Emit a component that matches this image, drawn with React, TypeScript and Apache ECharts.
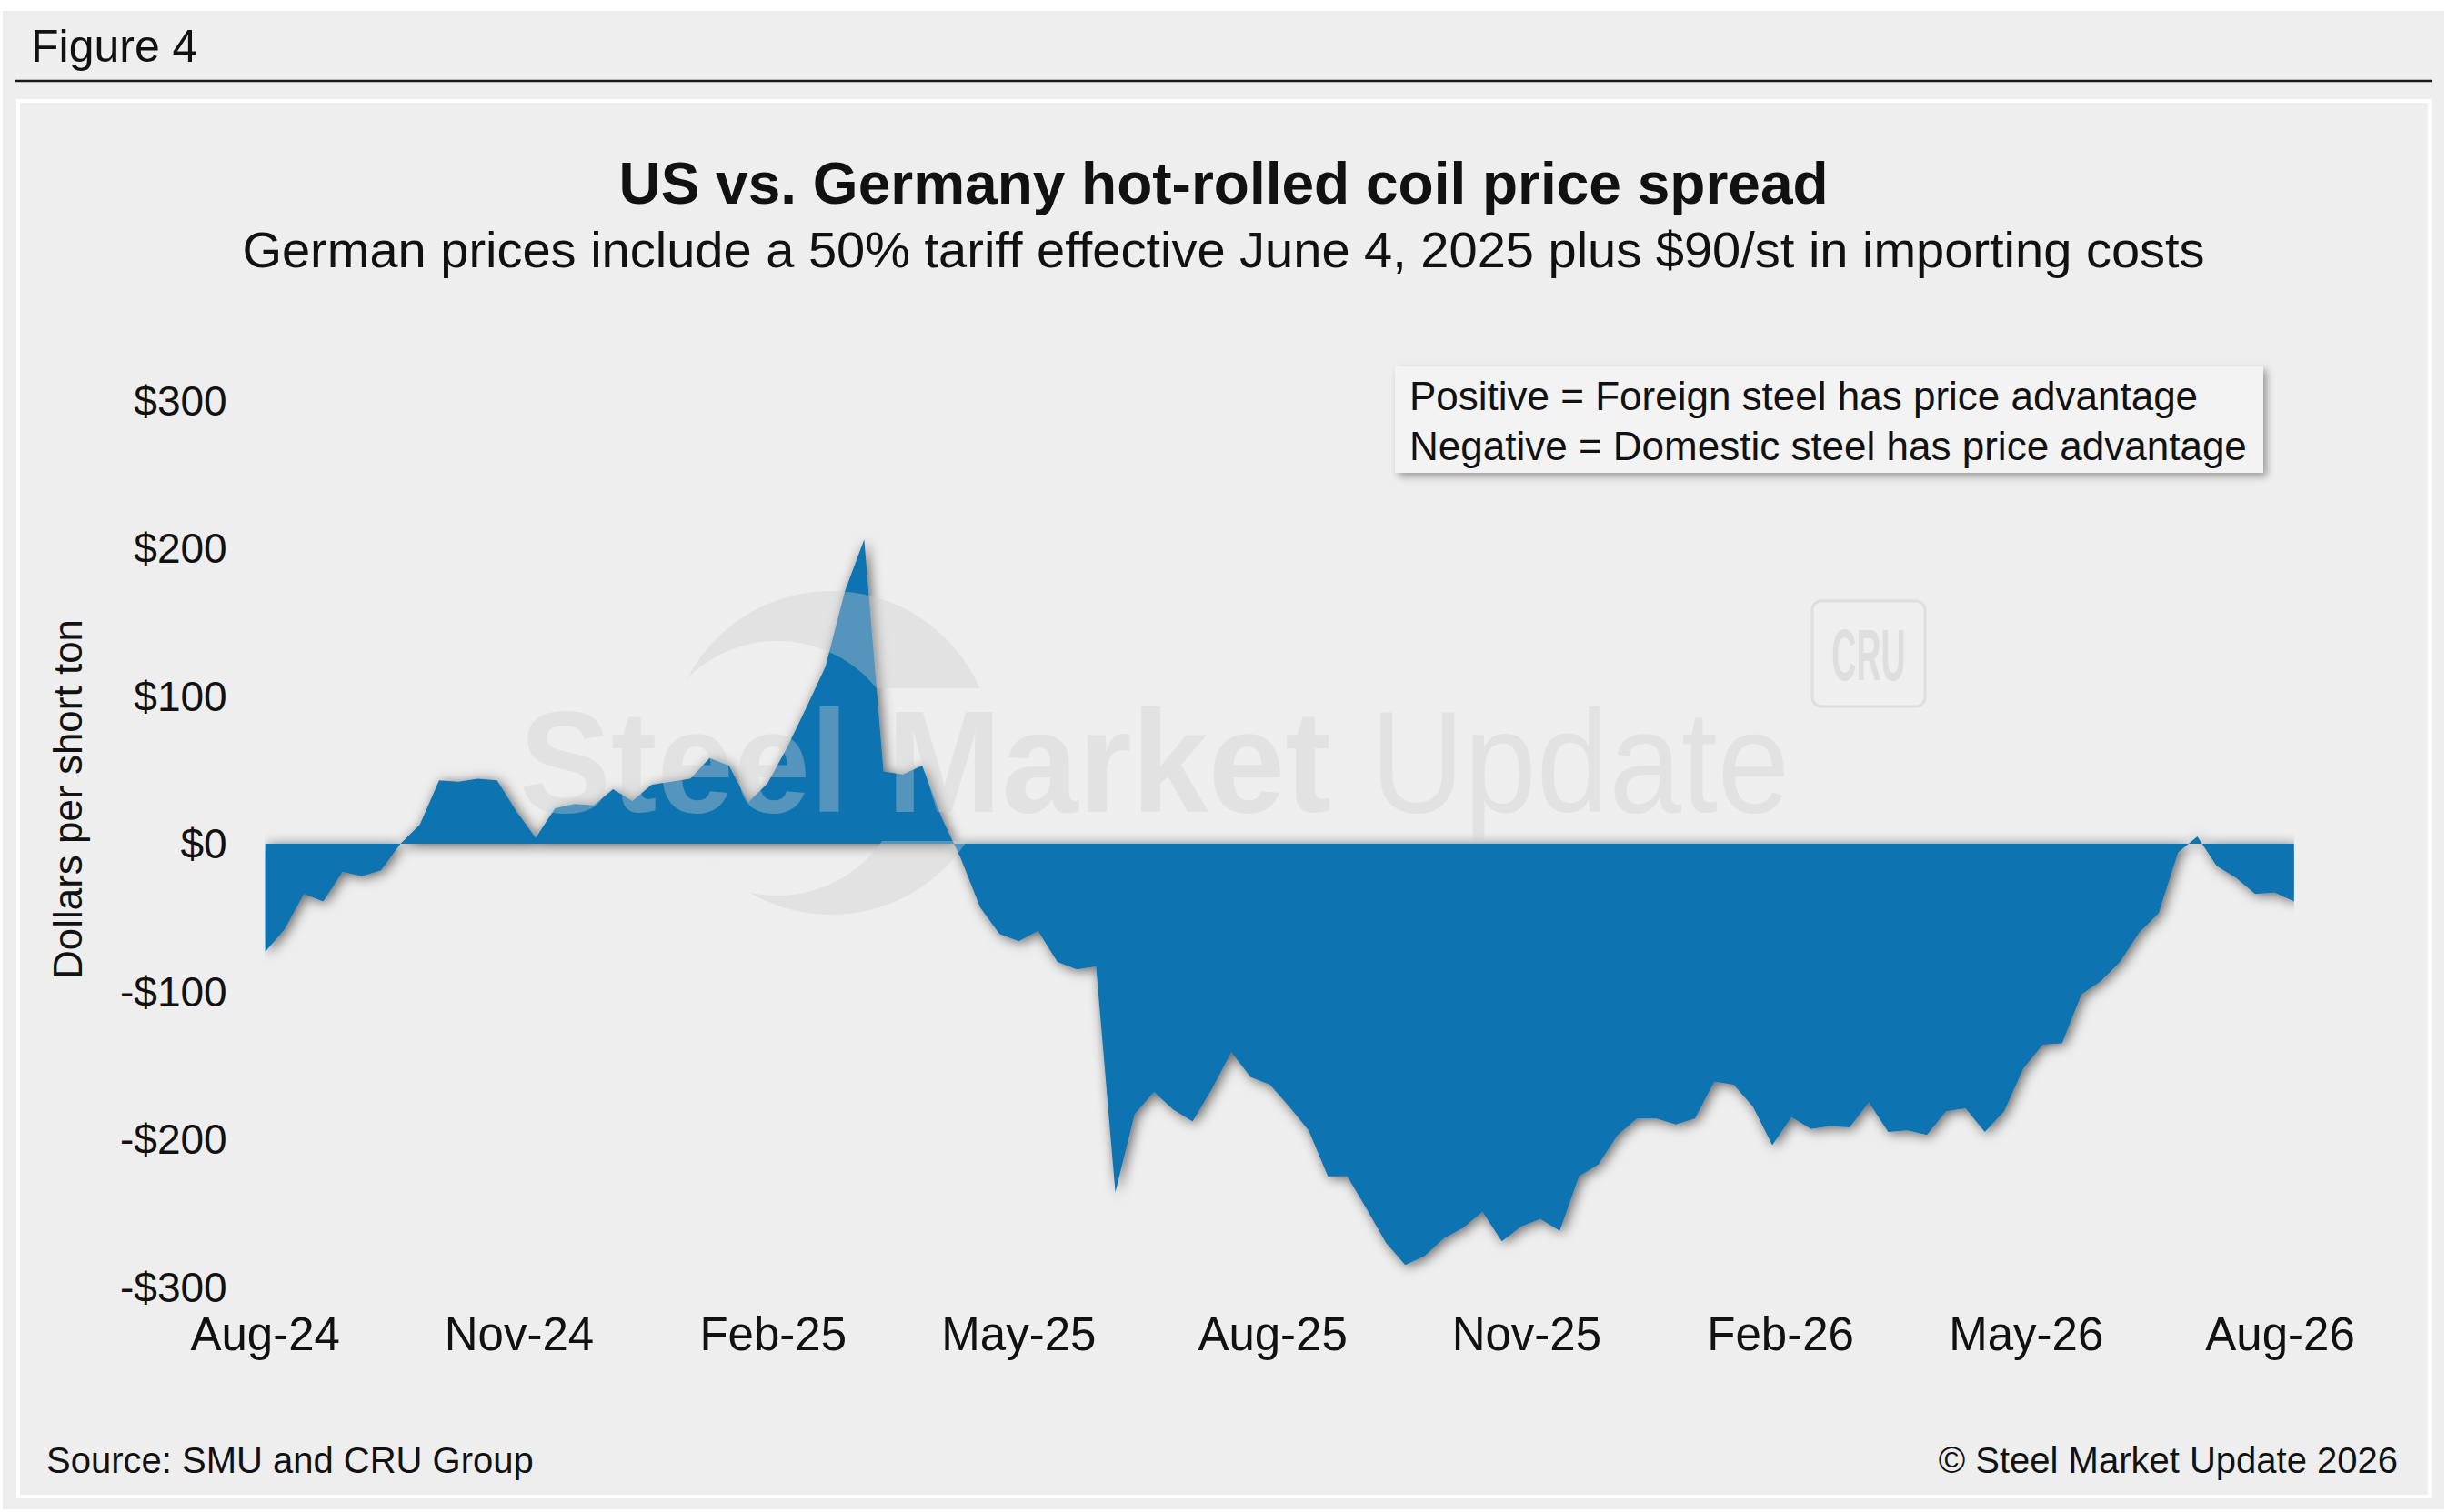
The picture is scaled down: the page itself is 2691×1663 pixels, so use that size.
import { useEffect, useRef } from "react";
import * as echarts from "echarts";

const WIDTH = 2691;
const HEIGHT = 1663;
const FONT = '"Liberation Sans", Arial, Helvetica, sans-serif';

// US minus German (landed) hot-rolled coil price, $/short ton, weekly
const spreadValues = [
  -73, -58, -34, -39, -19, -22, -18, 0, 13, 43, 42, 44, 43, 22, 4, 24, 27, 26,
  37, 29, 40, 42, 44, 58, 53, 28, 41, 65, 92, 120, 171, 206, 49, 47, 53, 18,
  -10, -43, -61, -66, -59, -80, -85, -83, -236, -183, -168, -180, -188, -166,
  -141, -158, -163, -178, -194, -225, -225, -247, -270, -285, -279, -267, -260,
  -249, -269, -259, -254, -262, -225, -217, -197, -186, -186, -190, -186, -161,
  -163, -178, -204, -185, -193, -191, -192, -175, -195, -194, -197, -181, -179,
  -195, -181, -152, -136, -135, -102, -93, -80, -60, -47, -6, 5, -15, -23, -34,
  -33, -39,
];

// first weekly observation (UTC)
const firstWeek = "2024-08-01";

const xTickDates = [
  "2024-08-01", "2024-11-01", "2025-02-01", "2025-05-01", "2025-08-01",
  "2025-11-01", "2026-02-01", "2026-05-01", "2026-08-01",
];
const xTickLabels = [
  "Aug-24", "Nov-24", "Feb-25", "May-25", "Aug-25",
  "Nov-25", "Feb-26", "May-26", "Aug-26",
];

const yMin = -300;
const yMax = 300;
const yStep = 100;

const legendLines = [
  "Positive = Foreign steel has price advantage",
  "Negative = Domestic steel has price advantage",
];

const DAY = 86400000;
const utc = (s: string) => Date.parse(s + "T00:00:00Z");

const weekTimes = spreadValues.map((_, i) => utc(firstWeek) + 7 * i * DAY);
const tickTimes = xTickDates.map(utc);

const fmtDollar = (v: number) => (v < 0 ? `-$${-v}` : `$${v}`);

// watermark logo (crescent cut by a horizontal band)
const WM_COLOR = "rgba(205,205,208,0.37)";
const outerC = { cx: 914, cy: 828, r: 178 };
const innerC = { cx: 855, cy: 845, r: 140 };
const bandTop = 757;
const bandBottom = 925;

const arcPts = (c: { cx: number; cy: number; r: number }, a0: number, a1: number, n = 60) => {
  const pts: number[][] = [];
  for (let k = 0; k <= n; k++) {
    const t = a0 + ((a1 - a0) * k) / n;
    pts.push([c.cx + c.r * Math.cos(t), c.cy + c.r * Math.sin(t)]);
  }
  return pts;
};

// keep inner arc points inside the outer circle
const clampToOuter = (pts: number[][]) =>
  pts.map(([x, y]) => {
    const dx = x - outerC.cx;
    const dy = y - outerC.cy;
    const d = Math.sqrt(dx * dx + dy * dy);
    if (d <= outerC.r) return [x, y];
    return [outerC.cx + (dx / d) * outerC.r, outerC.cy + (dy / d) * outerC.r];
  });

const logoTop = () => {
  const a = Math.asin((outerC.cy - bandTop) / outerC.r);
  const b = Math.asin((innerC.cy - bandTop) / innerC.r);
  return [
    ...arcPts(outerC, Math.PI + a, 2 * Math.PI - a),
    ...clampToOuter(arcPts(innerC, 2 * Math.PI - b, Math.PI + b)),
  ];
};

const logoBottom = () => {
  const c = Math.asin((bandBottom - outerC.cy) / outerC.r);
  const d = Math.asin((bandBottom - innerC.cy) / innerC.r);
  return [
    ...arcPts(outerC, c, Math.PI - c),
    ...clampToOuter(arcPts(innerC, Math.PI - d, d)),
  ];
};

function SpreadChart() {
  const chartRef = useRef<HTMLDivElement>(null);

  useEffect(() => {
    if (!chartRef.current) return;
    const chart = echarts.init(chartRef.current, undefined, { renderer: "svg" });

    const option: echarts.EChartsOption = {
      animation: false,
      backgroundColor: "#ffffff",
      grid: { left: 291.7, right: 168.3, top: 440.5, bottom: 247.5, containLabel: false },
      xAxis: {
        type: "value",
        min: weekTimes[0],
        max: weekTimes[weekTimes.length - 1],
        axisLine: { show: false },
        axisTick: { show: false },
        splitLine: { show: false },
        axisLabel: {
          customValues: tickTimes,
          formatter: (v: number) => {
            const i = tickTimes.indexOf(v);
            return i >= 0 ? xTickLabels[i] : "";
          },
          margin: 26,
          color: "#111",
          fontFamily: FONT,
          fontSize: 51,
        },
      } as any,
      yAxis: {
        type: "value",
        min: yMin,
        max: yMax,
        interval: yStep,
        axisLine: { show: false },
        axisTick: { show: false },
        splitLine: { show: false },
        axisLabel: {
          formatter: (v: number) => fmtDollar(v),
          margin: 42,
          color: "#111",
          fontFamily: FONT,
          fontSize: 46,
        },
      },
      series: [
        {
          type: "line",
          data: weekTimes.map((t, i) => [t, spreadValues[i]]),
          symbol: "none",
          silent: true,
          lineStyle: { width: 0, color: "#1073b1" },
          areaStyle: {
            color: "#1073b1",
            opacity: 1,
            origin: "auto",
            shadowBlur: 14,
            shadowColor: "rgba(0,0,0,0.6)",
            shadowOffsetX: 3,
            shadowOffsetY: 2,
          },
        },
      ],
      graphic: [
        // page panels
        {
          type: "rect",
          z: 0,
          silent: true,
          shape: { x: 3, y: 12, width: 2685, height: 1648 },
          style: { fill: "#eeeeee" },
        },
        {
          type: "rect",
          z: 0,
          silent: true,
          shape: { x: 20, y: 111, width: 2652, height: 1535 },
          style: { fill: "#eeeeee", stroke: "#ffffff", lineWidth: 4 },
        },
        {
          type: "line",
          z: 1,
          silent: true,
          shape: { x1: 17, y1: 89, x2: 2674, y2: 89 },
          style: { stroke: "#1a1a1a", lineWidth: 2.5 },
        },
        {
          type: "text",
          z: 1,
          x: 34,
          y: 51,
          style: {
            text: "Figure 4",
            fontFamily: FONT,
            fontSize: 50,
            fill: "#111",
            align: "left",
            verticalAlign: "middle",
          },
        },
        {
          type: "text",
          z: 1,
          x: WIDTH / 2,
          y: 202,
          style: {
            text: "US vs. Germany hot-rolled coil price spread",
            fontFamily: FONT,
            fontWeight: "bold",
            fontSize: 64,
            fill: "#111",
            align: "center",
            verticalAlign: "middle",
          },
        },
        {
          type: "text",
          z: 1,
          x: WIDTH / 2,
          y: 274,
          style: {
            text: "German prices include a 50% tariff effective June 4, 2025 plus $90/st in importing costs",
            fontFamily: FONT,
            fontSize: 56,
            fill: "#111",
            align: "center",
            verticalAlign: "middle",
          },
        },
        {
          type: "text",
          z: 1,
          x: 74,
          y: 879,
          rotation: Math.PI / 2,
          style: {
            text: "Dollars per short ton",
            fontFamily: FONT,
            fontSize: 44,
            fill: "#111",
            align: "center",
            verticalAlign: "middle",
          },
        },
        {
          type: "text",
          z: 1,
          x: 51,
          y: 1606,
          style: {
            text: "Source: SMU and CRU Group",
            fontFamily: FONT,
            fontSize: 40,
            fill: "#111",
            align: "left",
            verticalAlign: "middle",
          },
        },
        {
          type: "text",
          z: 1,
          x: 2637,
          y: 1606,
          style: {
            text: "© Steel Market Update 2026",
            fontFamily: FONT,
            fontSize: 40,
            fill: "#111",
            align: "right",
            verticalAlign: "middle",
          },
        },
        // watermark
        {
          type: "polygon",
          z: 5,
          silent: true,
          shape: { points: logoTop() },
          style: { fill: WM_COLOR },
        },
        {
          type: "polygon",
          z: 5,
          silent: true,
          shape: { points: logoBottom() },
          style: { fill: WM_COLOR },
        },
        {
          type: "text",
          z: 5,
          silent: true,
          x: 571,
          y: 838,
          scaleX: 0.947,
          style: {
            text: "Steel Market",
            fontFamily: FONT,
            fontWeight: "bold",
            fontSize: 160,
            fill: WM_COLOR,
            align: "left",
            verticalAlign: "middle",
          },
        },
        {
          type: "text",
          z: 5,
          silent: true,
          x: 1507,
          y: 838,
          scaleX: 0.894,
          style: {
            text: "Update",
            fontFamily: FONT,
            fontSize: 160,
            fill: WM_COLOR,
            align: "left",
            verticalAlign: "middle",
          },
        },
        {
          type: "rect",
          z: 5,
          silent: true,
          shape: { x: 1993, y: 661, width: 124, height: 116, r: 10 },
          style: { fill: "rgba(255,255,255,0.08)", stroke: "rgba(205,205,208,0.5)", lineWidth: 3 },
        },
        {
          type: "text",
          z: 5,
          silent: true,
          x: 2055,
          y: 720,
          scaleX: 0.47,
          style: {
            text: "CRU",
            fontFamily: FONT,
            fontWeight: "bold",
            fontSize: 80,
            fill: "rgba(205,205,208,0.5)",
            align: "center",
            verticalAlign: "middle",
          },
        },
        // note box
        {
          type: "rect",
          z: 6,
          silent: true,
          shape: { x: 1534, y: 403, width: 955, height: 117 },
          style: {
            fill: "#f3f3f3",
            shadowBlur: 8,
            shadowOffsetX: 4,
            shadowOffsetY: 4,
            shadowColor: "rgba(0,0,0,0.35)",
          },
        },
        ...legendLines.map((line, i) => ({
          type: "text" as const,
          z: 7,
          silent: true,
          x: 1550,
          y: 435 + i * 55,
          style: {
            text: line,
            fontFamily: FONT,
            fontSize: 44,
            fill: "#111",
            align: "left" as const,
            verticalAlign: "middle" as const,
          },
        })),
      ],
    };

    chart.setOption(option);

    return () => {
      chart.dispose();
    };
  }, []);

  return (
    <div
      ref={chartRef}
      style={{ position: "absolute", left: 0, top: 0, width: WIDTH, height: HEIGHT }}
    />
  );
}

export default function App() {
  return <SpreadChart />;
}
